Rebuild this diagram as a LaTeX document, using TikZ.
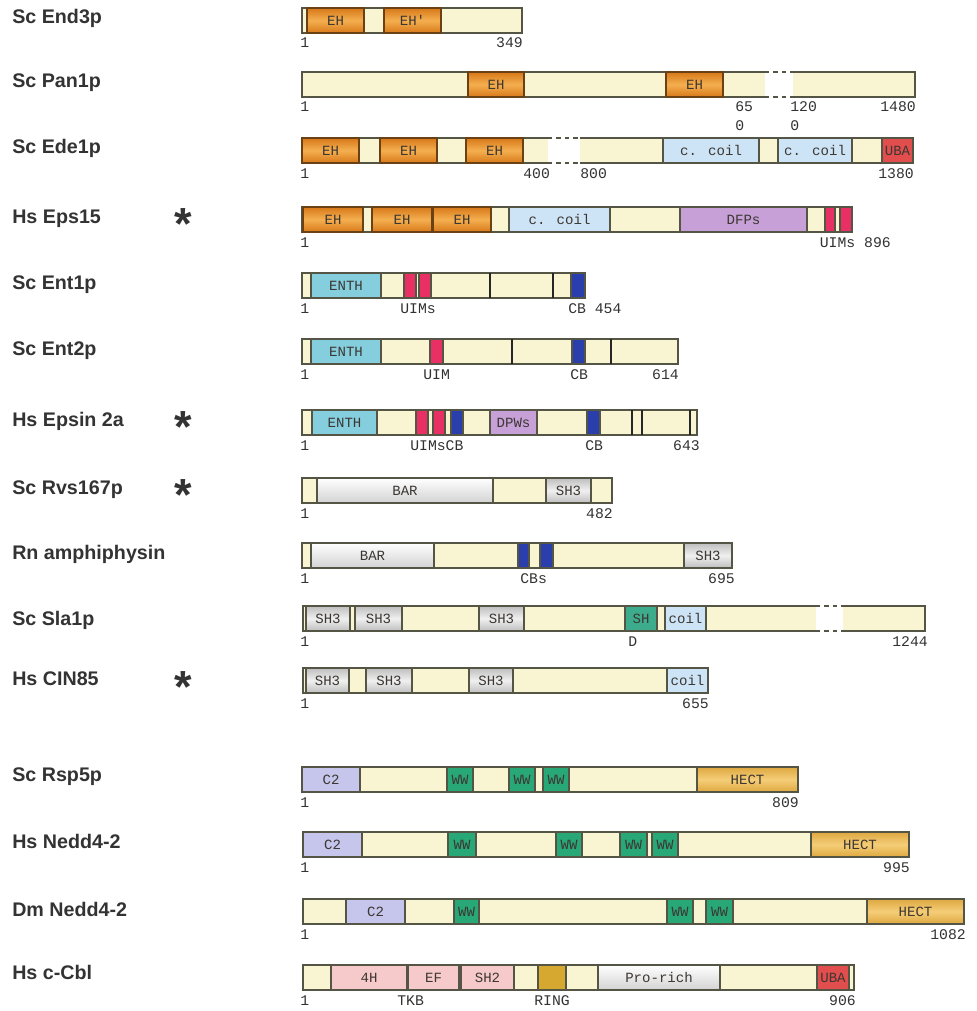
\documentclass[tikz,border=0pt]{standalone}
\usepackage{fontspec}
\setmainfont{Liberation Sans}
\newfontfamily\seqfont{Liberation Mono}
\usetikzlibrary{calc}
\definecolor{barfill}{RGB}{249,245,210}
\definecolor{barline}{RGB}{85,85,70}
\definecolor{ehdark}{RGB}{215,120,25}
\definecolor{ehlight}{RGB}{245,175,80}
\definecolor{ehline}{RGB}{105,65,20}
\definecolor{coilcol}{RGB}{205,228,246}
\definecolor{ubacol}{RGB}{226,78,78}
\definecolor{dfpcol}{RGB}{200,160,216}
\definecolor{uimcol}{RGB}{232,48,100}
\definecolor{cbcol}{RGB}{42,62,172}
\definecolor{enthcol}{RGB}{132,206,222}
\definecolor{sh3col}{RGB}{190,190,190}
\definecolor{shdcol}{RGB}{60,172,140}
\definecolor{wwcol}{RGB}{40,168,118}
\definecolor{c2col}{RGB}{198,198,236}
\definecolor{hectdark}{RGB}{222,168,64}
\definecolor{hectlight}{RGB}{245,205,120}
\definecolor{tkbcol}{RGB}{246,202,202}
\definecolor{ringcol}{RGB}{214,168,48}
\definecolor{domtext}{RGB}{60,55,50}
\definecolor{numtext}{RGB}{50,50,50}
\newcommand\dom[5]{\draw[#2] (#3,0) rectangle (#4,25);
  \node[domtext] (#1) at ({(#3+#4)/2},12.5) {#5};}
\newcommand\band[3]{\draw[#1] (#2,0) rectangle (#3,25);}
\newcommand\divline[1]{\draw[divider] (#1,0) -- (#1,25);}
\newcommand\seqgap[2]{\fill[white] (#1,-2) rectangle (#2,27);
  \draw[barline, dashed, line width=1pt] (#1,0) -- (#2,0) (#1,25) -- (#2,25);}
\begin{document}
\begin{tikzpicture}[x=0.025cm, y=-0.025cm,
  bar/.style={draw=barline, fill=barfill, line width=1pt},
  box/.style={draw=barline, line width=1pt},
  eh/.style={draw=ehline, line width=1pt, top color=ehdark, bottom color=ehdark, middle color=ehlight},
  coil/.style={box, fill=coilcol},
  uba/.style={box, fill=ubacol},
  dfp/.style={box, fill=dfpcol},
  uim/.style={box, fill=uimcol},
  cb/.style={box, fill=cbcol},
  enth/.style={box, fill=enthcol},
  barbox/.style={box, top color=white, bottom color=gray!35},
  sh3/.style={box, top color=sh3col, bottom color=sh3col, middle color=gray!12},
  shd/.style={box, fill=shdcol},
  ww/.style={box, fill=wwcol},
  c2/.style={box, fill=c2col},
  hect/.style={box, top color=hectdark, bottom color=hectdark, middle color=hectlight},
  tkb/.style={box, fill=tkbcol},
  ring/.style={box, fill=ringcol},
  divider/.style={draw=black!85, line width=1.6pt},
  domtext/.style={font=\seqfont\fontsize{10}{12}\selectfont, text=domtext, inner sep=0pt},
  num/.style={font=\seqfont\fontsize{10.5}{12}\selectfont, text=numtext, inner sep=0pt},
  protein/.style={font=\bfseries\fontsize{14}{16}\selectfont, text=black!80, inner sep=0pt, anchor=base west}]
\useasboundingbox (0,0) rectangle (976,1011);

\begin{scope}[shift={(0,8)}, name prefix=end3p-]
\node[protein] (name) at (12,16) {Sc End3p};
\draw[bar] (302,0) rectangle (522,25);
\dom{eh1}{eh}{307}{364}{EH}
\dom{eh2}{eh}{384}{441}{EH'}
\node[num, anchor=base west] (first) at (300,40) {1};
\node[num, anchor=base east] (last) at (523,40) {349};
\end{scope}

\begin{scope}[shift={(0,72)}, name prefix=pan1p-]
\node[protein] (name) at (12,16) {Sc Pan1p};
\draw[bar] (302,0) rectangle (915,25);
\dom{eh1}{eh}{468}{524}{EH}
\dom{eh2}{eh}{666}{723}{EH}
\seqgap{765}{793}
\node[num, anchor=base west] (first) at (300,40) {1};
\node[num, anchor=base west] (cuta) at (735,40) {65};
\node[num, anchor=base west] (cutb) at (735,59) {0};
\node[num, anchor=base west] (cutc) at (790,40) {120};
\node[num, anchor=base west] (cutd) at (790,59) {0};
\node[num, anchor=base east] (last) at (916,40) {1480};
\end{scope}

\begin{scope}[shift={(0,138)}, name prefix=ede1p-]
\node[protein] (name) at (12,16) {Sc Ede1p};
\draw[bar] (302,0) rectangle (913,25);
\dom{eh1}{eh}{302}{359}{EH}
\dom{eh2}{eh}{380}{437}{EH}
\dom{eh3}{eh}{466}{523}{EH}
\seqgap{548}{580}
\dom{cc1}{coil}{663}{759}{c. coil}
\dom{cc2}{coil}{778}{852}{c. coil}
\dom{uba}{uba}{882}{913}{UBA}
\node[num, anchor=base west] (first) at (300,40) {1};
\node[num, anchor=base west] (cuta) at (523,40) {400};
\node[num, anchor=base west] (cutb) at (580,40) {800};
\node[num, anchor=base east] (last) at (914,40) {1380};
\end{scope}

\begin{scope}[shift={(0,207)}, name prefix=eps15-]
\node[protein] (name) at (12,16) {Hs Eps15};
\draw[bar] (302,0) rectangle (852,25);
\dom{eh1}{eh}{303}{363}{EH}
\dom{eh2}{eh}{372}{432}{EH}
\dom{eh3}{eh}{433}{491}{EH}
\dom{cc}{coil}{509}{610}{c. coil}
\dom{dfp}{dfp}{680}{807}{DFPs}
\band{uim}{825}{835}
\band{uim}{840}{852}
\node[num, anchor=base west] (first) at (300,40) {1};
\node[num, anchor=base east] (last) at (891,40) {UIMs 896};
\end{scope}

\begin{scope}[shift={(0,273)}, name prefix=ent1p-]
\node[protein] (name) at (12,16) {Sc Ent1p};
\draw[bar] (302,0) rectangle (585,25);
\dom{enth}{enth}{311}{381}{ENTH}
\band{uim}{404}{416}
\band{uim}{419}{431}
\divline{490}
\divline{553}
\band{cb}{571}{585}
\node[num, anchor=base west] (first) at (300,40) {1};
\node[num, anchor=base west] (uims) at (400,40) {UIMs};
\node[num, anchor=base west] (last) at (568,40) {CB 454};
\end{scope}

\begin{scope}[shift={(0,339)}, name prefix=ent2p-]
\node[protein] (name) at (12,16) {Sc Ent2p};
\draw[bar] (302,0) rectangle (678,25);
\dom{enth}{enth}{311}{381}{ENTH}
\band{uim}{430}{443}
\divline{512}
\band{cb}{572}{585}
\divline{611}
\node[num, anchor=base west] (first) at (300,40) {1};
\node[num, anchor=base west] (uim) at (423,40) {UIM};
\node[num, anchor=base west] (cb) at (570,40) {CB};
\node[num, anchor=base east] (last) at (679,40) {614};
\end{scope}

\begin{scope}[shift={(0,410)}, name prefix=epsin-]
\node[protein] (name) at (12,16) {Hs Epsin 2a};
\draw[bar] (302,0) rectangle (697,25);
\dom{enth}{enth}{312}{377}{ENTH}
\band{uim}{416}{428}
\band{uim}{433}{445}
\band{cb}{451}{463}
\dom{dpw}{dfp}{490}{537}{DPWs}
\band{cb}{587}{600}
\divline{632}
\divline{642}
\divline{690}
\node[num, anchor=base west] (first) at (300,40) {1};
\node[num, anchor=base west] (uims) at (410,40) {UIMsCB};
\node[num, anchor=base west] (cb) at (585,40) {CB};
\node[num, anchor=base east] (last) at (700,40) {643};
\end{scope}

\begin{scope}[shift={(0,478)}, name prefix=rvs167p-]
\node[protein] (name) at (12,16) {Sc Rvs167p};
\draw[bar] (302,0) rectangle (612,25);
\dom{bar}{barbox}{317}{493}{BAR}
\dom{sh3}{sh3}{546}{591}{SH3}
\node[num, anchor=base west] (first) at (300,40) {1};
\node[num, anchor=base east] (last) at (613,40) {482};
\end{scope}

\begin{scope}[shift={(0,543)}, name prefix=amph-]
\node[protein] (name) at (12,16) {Rn amphiphysin};
\draw[bar] (302,0) rectangle (732,25);
\dom{bar}{barbox}{311}{434}{BAR}
\band{cb}{518}{529}
\band{cb}{540}{553}
\dom{sh3}{sh3}{684}{732}{SH3}
\node[num, anchor=base west] (first) at (300,40) {1};
\node[num, anchor=base west] (cbs) at (520,40) {CBs};
\node[num, anchor=base east] (last) at (735,40) {695};
\end{scope}

\begin{scope}[shift={(0,606)}, name prefix=sla1p-]
\node[protein] (name) at (12,19) {Sc Sla1p};
\draw[bar] (303,0) rectangle (925,25);
\dom{sh3a}{sh3}{306}{350}{SH3}
\dom{sh3b}{sh3}{355}{402}{SH3}
\dom{sh3c}{sh3}{479}{524}{SH3}
\dom{shd}{shd}{625}{657}{SH}
\dom{coil}{coil}{665}{706}{coil}
\seqgap{816}{843}
\node[num, anchor=base west] (first) at (300,40) {1};
\node[num, anchor=base west] (shd) at (628,40) {D};
\node[num, anchor=base east] (last) at (928,40) {1244};
\end{scope}

\begin{scope}[shift={(0,668)}, name prefix=cin85-]
\node[protein] (name) at (12,17) {Hs CIN85};
\draw[bar] (303,0) rectangle (708,25);
\dom{sh3a}{sh3}{306}{349}{SH3}
\dom{sh3b}{sh3}{366}{412}{SH3}
\dom{sh3c}{sh3}{469}{513}{SH3}
\dom{coil}{coil}{667}{708}{coil}
\node[num, anchor=base west] (first) at (300,40) {1};
\node[num, anchor=base east] (last) at (709,40) {655};
\end{scope}

\begin{scope}[shift={(0,767)}, name prefix=rsp5p-]
\node[protein] (name) at (12,14) {Sc Rsp5p};
\draw[bar] (302,0) rectangle (798,25);
\dom{c2}{c2}{302}{360}{C2}
\dom{ww1}{ww}{447}{473}{WW}
\dom{ww2}{ww}{509}{535}{WW}
\dom{ww3}{ww}{543}{569}{WW}
\dom{hect}{hect}{697}{798}{HECT}
\node[num, anchor=base west] (first) at (300,40) {1};
\node[num, anchor=base east] (last) at (799,40) {809};
\end{scope}

\begin{scope}[shift={(0,832)}, name prefix=hsnedd-]
\node[protein] (name) at (12,16) {Hs Nedd4-2};
\draw[bar] (303,0) rectangle (909,25);
\dom{c2}{c2}{303}{362}{C2}
\dom{ww1}{ww}{448}{476}{WW}
\dom{ww2}{ww}{556}{582}{WW}
\dom{ww3}{ww}{620}{647}{WW}
\dom{ww4}{ww}{652}{678}{WW}
\dom{hect}{hect}{811}{909}{HECT}
\node[num, anchor=base west] (first) at (300,40) {1};
\node[num, anchor=base east] (last) at (910,40) {995};
\end{scope}

\begin{scope}[shift={(0,899)}, name prefix=dmnedd-]
\node[protein] (name) at (12,17) {Dm Nedd4-2};
\draw[bar] (303,0) rectangle (964,25);
\dom{c2}{c2}{346}{405}{C2}
\dom{ww1}{ww}{454}{479}{WW}
\dom{ww2}{ww}{667}{693}{WW}
\dom{ww3}{ww}{706}{733}{WW}
\dom{hect}{hect}{867}{964}{HECT}
\node[num, anchor=base west] (first) at (300,40) {1};
\node[num, anchor=base east] (last) at (966,40) {1082};
\end{scope}

\begin{scope}[shift={(0,965)}, name prefix=ccbl-]
\node[protein] (name) at (12,14) {Hs c-Cbl};
\draw[bar] (303,0) rectangle (854,25);
\dom{fourh}{tkb}{331}{407}{4H}
\dom{ef}{tkb}{408}{459}{EF}
\dom{sh2}{tkb}{461}{514}{SH2}
\band{ring}{538}{566}
\dom{pro}{barbox}{598}{720}{Pro-rich}
\dom{uba}{uba}{817}{849}{UBA}
\node[num, anchor=base west] (first) at (300,40) {1};
\node[num, anchor=base west] (tkb) at (397,40) {TKB};
\node[num, anchor=base west] (ring) at (534,40) {RING};
\node[num, anchor=base east] (last) at (856,40) {906};
\end{scope}

\foreach \y/\n in {217/eps15, 420/epsin, 488/rvs167p, 680/cin85}
  \node[font=\bfseries\fontsize{32}{32}\selectfont, text=black!80, inner sep=0pt, anchor=base] (star-\n) at (183,\y+22) {*};
\end{tikzpicture}
\end{document}
